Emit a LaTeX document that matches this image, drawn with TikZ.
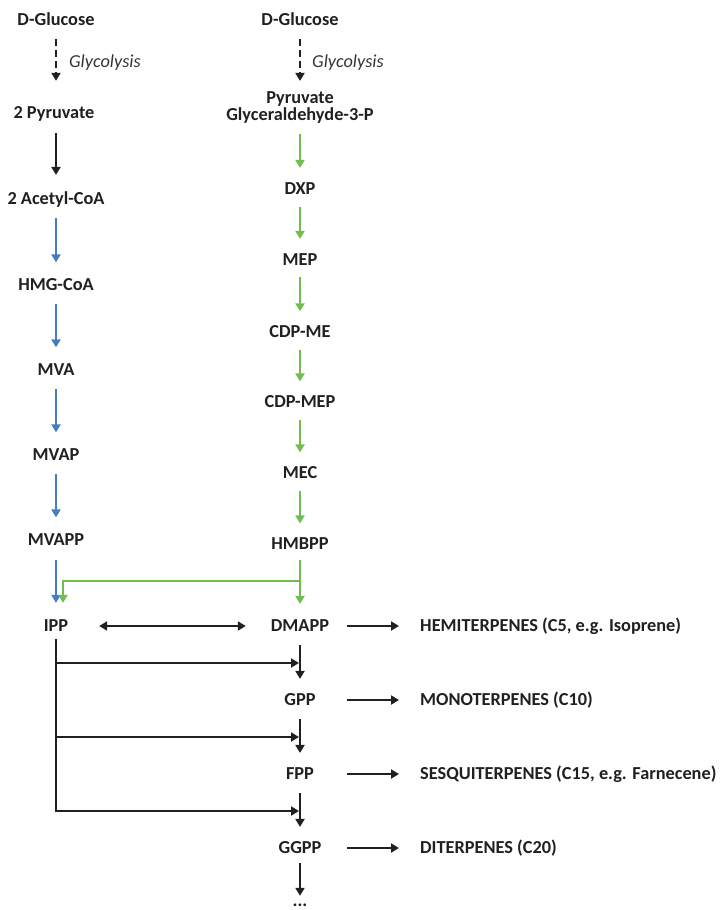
\documentclass[tikz,border=0pt]{standalone}
\usepackage{fontspec}
\setmainfont{Carlito}
\usetikzlibrary{arrows.meta,calc}
\definecolor{ink}{RGB}{35,31,32}
\definecolor{mvablue}{RGB}{70,124,194}
\definecolor{mepgreen}{RGB}{112,190,80}
\definecolor{glyc}{RGB}{52,52,52}
\begin{document}
\begin{tikzpicture}[x=1pt,y=-1pt,
  lbl/.style={font=\fontsize{18.3}{17}\selectfont\bfseries, text=ink, inner sep=0pt, text height=11.8pt, text depth=0pt},
  wlbl/.style={lbl, minimum width=60pt},
  prod/.style={lbl, anchor=west},
  gly/.style={font=\fontsize{18.3}{17}\selectfont\itshape, text=glyc, inner sep=0pt, anchor=base west},
  arr/.style={line width=2.9pt, draw=ink, -{Triangle[width=9pt,length=8pt]}},
  dbl/.style={line width=2.9pt, draw=ink, {Triangle[width=9pt,length=8pt]}-{Triangle[width=9pt,length=8pt]}},
  blu/.style={arr, draw=mvablue, -{Triangle[width=9pt,length=8pt,fill=mvablue]}},
  grn/.style={arr, draw=mepgreen, -{Triangle[width=9pt,length=8pt,fill=mepgreen]}},
  dsh/.style={arr, dash pattern=on 7pt off 4pt}
]
\useasboundingbox (0,0) rectangle (722,910);

% left column (MVA pathway)
\node[lbl] (g1) at (56,20) {D-Glucose};
\node[gly] (gl1) at (69,67) {Glycolysis};
\node[lbl] (pyr1) at (54,112.5) {2 Pyruvate};
\node[lbl] (acc) at (56,199) {2 Acetyl-CoA};
\node[lbl] (hmg) at (56,285) {HMG-CoA};
\node[lbl] (mva) at (56,370) {MVA};
\node[lbl] (mvap) at (56,455) {MVAP};
\node[lbl] (mvapp) at (56,540) {MVAPP};
\node[lbl] (ipp) at (56,626) {IPP};

% right column (MEP pathway)
\node[lbl] (g2) at (300,20) {D-Glucose};
\node[gly] (gl2) at (312,67) {Glycolysis};
\node[lbl] (pyr2) at (300,98) {Pyruvate};
\node[lbl] (g3p) at (300,115) {Glyceraldehyde-3-P};
\node[lbl] (dxp) at (300,189) {DXP};
\node[lbl] (mep) at (300,259.5) {MEP};
\node[lbl] (cdpme) at (300,332) {CDP-ME};
\node[lbl] (cdpmep) at (300,402) {CDP-MEP};
\node[lbl] (mec) at (300,473) {MEC};
\node[lbl] (hmbpp) at (300,544) {HMBPP};
\node[wlbl] (dmapp) at (300,626) {DMAPP};
\node[wlbl] (gpp) at (300,700) {GPP};
\node[wlbl] (fpp) at (300,774) {FPP};
\node[wlbl] (ggpp) at (300,848) {GGPP};
\node[lbl,anchor=base,text height=8pt] (dots) at (300,906) {...};

% products
\node[prod] (hemi) at (420,626) {HEMITERPENES (C5, e.g. Isoprene)};
\node[prod] (mono) at (420,700) {MONOTERPENES (C10)};
\node[prod] (sesq) at (420,774) {SESQUITERPENES (C15, e.g. Farnecene)};
\node[prod] (dit) at (420,848) {DITERPENES (C20)};

% left connectors
\draw[dsh, shorten <=13pt, shorten >=25.6pt] (g1) -- (pyr1.north -| g1);
\draw[arr, shorten <=14.5pt, shorten >=18pt] (acc.north |- pyr1.south) -- (acc);
\draw[blu, shorten <=13pt, shorten >=16.5pt] (acc) -- (hmg);
\draw[blu, shorten <=13pt, shorten >=16.5pt] (hmg) -- (mva);
\draw[blu, shorten <=13pt, shorten >=16.5pt] (mva) -- (mvap);
\draw[blu, shorten <=13pt, shorten >=16.5pt] (mvap) -- (mvapp);
\draw[blu, shorten <=14pt, shorten >=17pt] (mvapp) -- (ipp);

% right connectors
\draw[dsh, shorten <=13pt, shorten >=11pt] (g2) -- (pyr2);
\draw[grn, shorten <=13pt, shorten >=15pt] (g3p) -- (dxp);
\draw[grn, shorten <=11.5pt, shorten >=14.5pt] (dxp) -- (mep);
\draw[grn, shorten <=11.5pt, shorten >=14.5pt] (mep) -- (cdpme);
\draw[grn, shorten <=11.5pt, shorten >=14.5pt] (cdpme) -- (cdpmep);
\draw[grn, shorten <=11.5pt, shorten >=14.5pt] (cdpmep) -- (mec);
\draw[grn, shorten <=11.5pt, shorten >=14.5pt] (mec) -- (hmbpp);
\draw[grn, shorten <=10pt, shorten >=16pt] (hmbpp) -- (dmapp);
\coordinate (br) at (300,581);
\draw[grn, shorten >=17pt] (br) -| ($(ipp.north)+(7,0)$);

% IPP <-> DMAPP
\draw[dbl, shorten <=30.8pt, shorten >=24pt] (ipp) -- (dmapp);

% chain elongation
\draw[arr, shorten <=13pt, shorten >=15pt] (dmapp) -- (gpp);
\draw[arr, shorten <=13pt, shorten >=15pt] (gpp) -- (fpp);
\draw[arr, shorten <=13pt, shorten >=15pt] (fpp) -- (ggpp);
\draw[arr, shorten <=9pt, shorten >=2pt] (ggpp) -- (dots);

\coordinate (b1) at ($(dmapp)!0.5!(gpp)$);
\coordinate (b2) at ($(gpp)!0.5!(fpp)$);
\coordinate (b3) at ($(fpp)!0.5!(ggpp)$);
\draw[arr, line join=miter, shorten <=7pt, shorten >=1pt] (ipp.south) -- (ipp.south |- b3) -- (b3);
\draw[arr, shorten >=1pt] (ipp.south |- b1) -- (b1);
\draw[arr, shorten >=1pt] (ipp.south |- b2) -- (b2);

% products arrows
\draw[arr, shorten <=17pt, shorten >=21pt] (dmapp) -- (hemi);
\draw[arr, shorten <=17pt, shorten >=21pt] (gpp) -- (mono);
\draw[arr, shorten <=17pt, shorten >=21pt] (fpp) -- (sesq);
\draw[arr, shorten <=17pt, shorten >=21pt] (ggpp) -- (dit);
\end{tikzpicture}
\end{document}
